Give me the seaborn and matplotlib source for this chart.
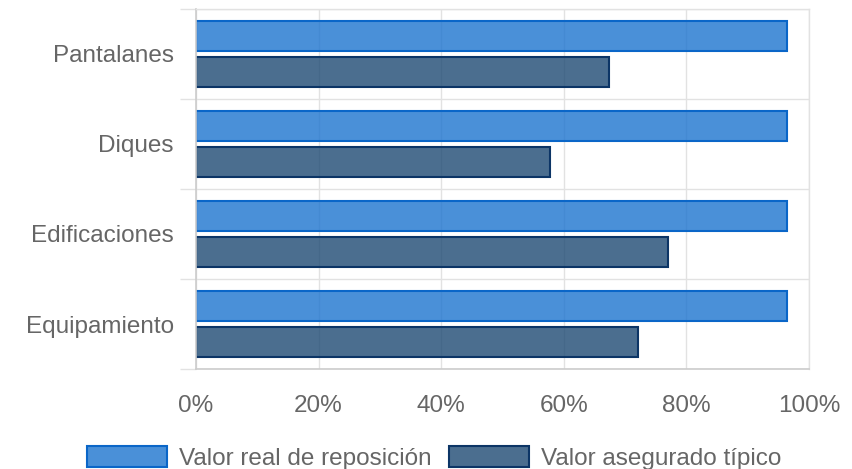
import matplotlib
matplotlib.use("Agg")
import matplotlib.pyplot as plt
import seaborn as sns
import pandas as pd
from matplotlib.ticker import FixedLocator, FuncFormatter
from matplotlib.patches import Patch

categories = ["Pantalanes", "Diques", "Edificaciones", "Equipamiento"]
valor_real = [96.4, 96.4, 96.4, 96.4]
valor_asegurado = [67.4, 57.7, 77.0, 72.1]
series_names = ["Valor real de reposición", "Valor asegurado típico"]
x_ticks = [0, 20, 40, 60, 80, 100]

rows = []
for c, a, b in zip(categories, valor_real, valor_asegurado):
    rows.append({"cat": c, "serie": series_names[0], "valor": a})
    rows.append({"cat": c, "serie": series_names[1], "valor": b})
df = pd.DataFrame(rows)

sns.set_theme(style="white")
plt.rcParams["font.family"] = ["Liberation Sans", "DejaVu Sans"]

W, H = 853, 469
FS = 17.5
fig = plt.figure(figsize=(W / 100, H / 100), dpi=100)
ax = fig.add_axes([196 / W, 1 - 369 / H, (809 - 196) / W, 360 / H])

fills = [(0.114, 0.455, 0.812, 0.8), (0.118, 0.29, 0.45, 0.8)]
edges = ["#0a66c8", "#0c3566"]

sns.barplot(data=df, y="cat", x="valor", hue="serie", order=categories,
            hue_order=series_names, palette=["#4a90d9", "#4b6e8f"],
            width=0.8, gap=0.15, orient="h", ax=ax, legend=False)

for cont, fc, ec in zip(ax.containers, fills, edges):
    for bar in cont:
        bar.set_facecolor(fc)
        bar.set_edgecolor(ec)
        bar.set_linewidth(1.5)

ax.set_xlim(0, 100)
ax.set_ylim(3.5, -0.5)
ax.set_xlabel("")
ax.set_ylabel("")
ax.set_axisbelow(True)

grid_c = "#e2e2e2"
ax.xaxis.set_major_locator(FixedLocator(x_ticks))
ax.xaxis.set_major_formatter(FuncFormatter(lambda v, p: f"{int(v)}%"))
ax.tick_params(axis="x", which="major", length=11, width=1, color=grid_c,
               pad=8, labelsize=FS, labelcolor="#666666")
ax.grid(axis="x", color=grid_c, lw=1)

ax.yaxis.set_minor_locator(FixedLocator([-0.5, 0.5, 1.5, 2.5, 3.5]))
ax.tick_params(axis="y", which="major", length=0, pad=16, labelsize=FS,
               labelcolor="#666666")
ax.tick_params(axis="y", which="minor", length=11.5, width=1, color=grid_c, left=True)
ax.grid(axis="y", which="minor", color=grid_c, lw=1)
ax.grid(axis="y", which="major", visible=False)

for s in ["top", "right"]:
    ax.spines[s].set_color(grid_c)
    ax.spines[s].set_linewidth(1)
ax.spines["left"].set_color("#cccccc")
ax.spines["bottom"].set_color("#cccccc")
ax.spines["left"].set_linewidth(1.2)
ax.spines["bottom"].set_linewidth(1.2)

handles = [Patch(facecolor=fills[i], edgecolor=edges[i], linewidth=1.5) for i in range(2)]
leg = fig.legend(handles, series_names, loc="upper center",
                 bbox_to_anchor=(0.5 + 8 / W, 1 - 427 / H), ncol=2, frameon=False,
                 fontsize=FS, handlelength=3.3, handleheight=0.95,
                 columnspacing=0.7, handletextpad=0.5, labelcolor="#666666",
                 borderpad=0.3)

fig.savefig("out.png", dpi=100)
